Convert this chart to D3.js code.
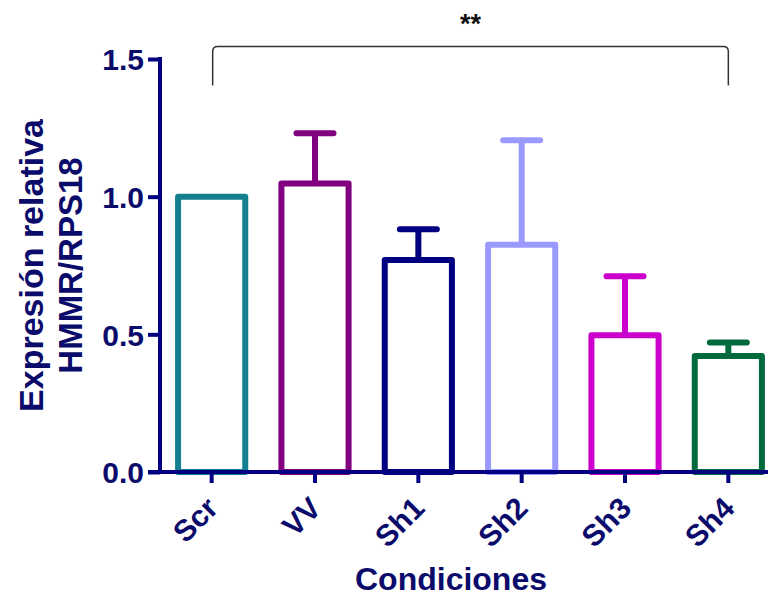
<!DOCTYPE html>
<html lang="en">
<head>
<meta charset="UTF-8">
<title>Expresión relativa HMMR/RPS18</title>
<script src="https://d3js.org/d3.v7.min.js"></script>
<style>
    body { margin: 0; background: #fff; font-family: "Liberation Sans", Arial, sans-serif; }
    text { font-weight: bold; }
</style>
</head>
<body>
<div id="chart"></div>
<script>
    // data
    const conditions = ["Scr", "VV", "Sh1", "Sh2", "Sh3", "Sh4"];
    const means = [1.0, 1.048, 0.77, 0.825, 0.497, 0.421];
    const errUp = [1.0, 1.23, 0.882, 1.205, 0.711, 0.47];
    const barColors = ["#14808f", "#800080", "#000080", "#9999ff", "#cc00cc", "#006a3c"];
    const yTicks = [0.0, 0.5, 1.0, 1.5];

    const W = 772, H = 596;
    const navy = "#000080", textCol = "#0b0b6b";

    const svg = d3.select("#chart").append("svg")
        .attr("width", W).attr("height", H);

    const x = d3.scaleBand().domain(conditions).range([160, 780])
        .paddingInner(0.35).paddingOuter(0.175);
    const y = d3.scaleLinear().domain([0, 1.5]).range([472, 59]);

    const rows = conditions.map((c, i) => ({ c, m: means[i], e: errUp[i], col: barColors[i] }));

    // error bars (upper only)
    const capW = x.bandwidth() * 0.55;
    rows.filter(d => d.e > d.m).forEach(d => {
        const cx = x(d.c) + x.bandwidth() / 2;
        svg.append("line")
            .attr("x1", cx).attr("x2", cx).attr("y1", y(d.m)).attr("y2", y(d.e))
            .attr("stroke", d.col).attr("stroke-width", 6);
        svg.append("line")
            .attr("x1", cx - capW / 2).attr("x2", cx + capW / 2).attr("y1", y(d.e)).attr("y2", y(d.e))
            .attr("stroke", d.col).attr("stroke-width", 6).attr("stroke-linecap", "round");
    });

    // hollow bars
    svg.selectAll(".bar").data(rows).enter().append("rect")
        .attr("class", "bar")
        .attr("x", d => x(d.c))
        .attr("y", d => y(d.m))
        .attr("width", x.bandwidth())
        .attr("height", d => y(0) - y(d.m))
        .attr("fill", "none")
        .attr("stroke", d => d.col)
        .attr("stroke-width", 6)
        .attr("stroke-linejoin", "round");

    // y axis
    const yAxis = svg.append("g").attr("transform", "translate(160,0)")
        .call(d3.axisLeft(y).tickValues(yTicks).tickFormat(d3.format(".1f")).tickSize(12).tickSizeOuter(0));
    yAxis.select(".domain").attr("stroke", navy).attr("stroke-width", 4)
        .attr("d", `M0,${y(1.5) - 2}V${y(0)}`);
    yAxis.selectAll(".tick line").attr("stroke", navy).attr("stroke-width", 4);
    yAxis.selectAll(".tick text").attr("fill", textCol)
        .style("font-size", "30px").style("font-family", "Liberation Sans, Arial")
        .attr("x", -16).attr("dy", "0.36em");

    // x axis
    const xAxis = svg.append("g").attr("transform", `translate(0,${y(0)})`)
        .call(d3.axisBottom(x).tickSize(11).tickSizeOuter(0));
    xAxis.select(".domain").attr("stroke", navy).attr("stroke-width", 4)
        .attr("d", "M148,0H768");
    xAxis.selectAll(".tick line").attr("stroke", navy).attr("stroke-width", 4);
    xAxis.selectAll(".tick text").attr("fill", textCol)
        .style("font-size", "30px").style("font-family", "Liberation Sans, Arial")
        .attr("text-anchor", "end")
        .attr("y", 0).attr("dy", 0)
        .attr("transform", "translate(8,38) rotate(-45)");

    // axis titles
    svg.append("text").attr("fill", textCol)
        .attr("transform", `translate(43,${(y(0) + y(1.5)) / 2}) rotate(-90)`)
        .attr("text-anchor", "middle").style("font-size", "34px")
        .text("Expresión relativa");
    svg.append("text").attr("fill", textCol)
        .attr("transform", `translate(82,${(y(0) + y(1.5)) / 2}) rotate(-90)`)
        .attr("text-anchor", "middle").style("font-size", "33px")
        .text("HMMR/RPS18");
    svg.append("text").attr("fill", textCol)
        .attr("x", 451).attr("y", 590)
        .attr("text-anchor", "middle").style("font-size", "32px")
        .text("Condiciones");

    // significance bracket Scr vs Sh4
    const bx0 = x("Scr") + x.bandwidth() / 2 + 1;
    const bx1 = x("Sh4") + x.bandwidth() / 2;
    const bTop = y(1.545), bBot = y(1.404);
    svg.append("path")
        .attr("d", `M${bx0},${bBot}V${bTop + 5}Q${bx0},${bTop} ${bx0 + 5},${bTop}H${bx1 - 5}Q${bx1},${bTop} ${bx1},${bTop + 5}V${bBot}`)
        .attr("fill", "none").attr("stroke", "#333").attr("stroke-width", 1.5);
    svg.append("text")
        .attr("x", (bx0 + bx1) / 2).attr("y", 33)
        .attr("text-anchor", "middle").attr("fill", "#111")
        .style("font-size", "27px")
        .text("**");
</script>
</body>
</html>
